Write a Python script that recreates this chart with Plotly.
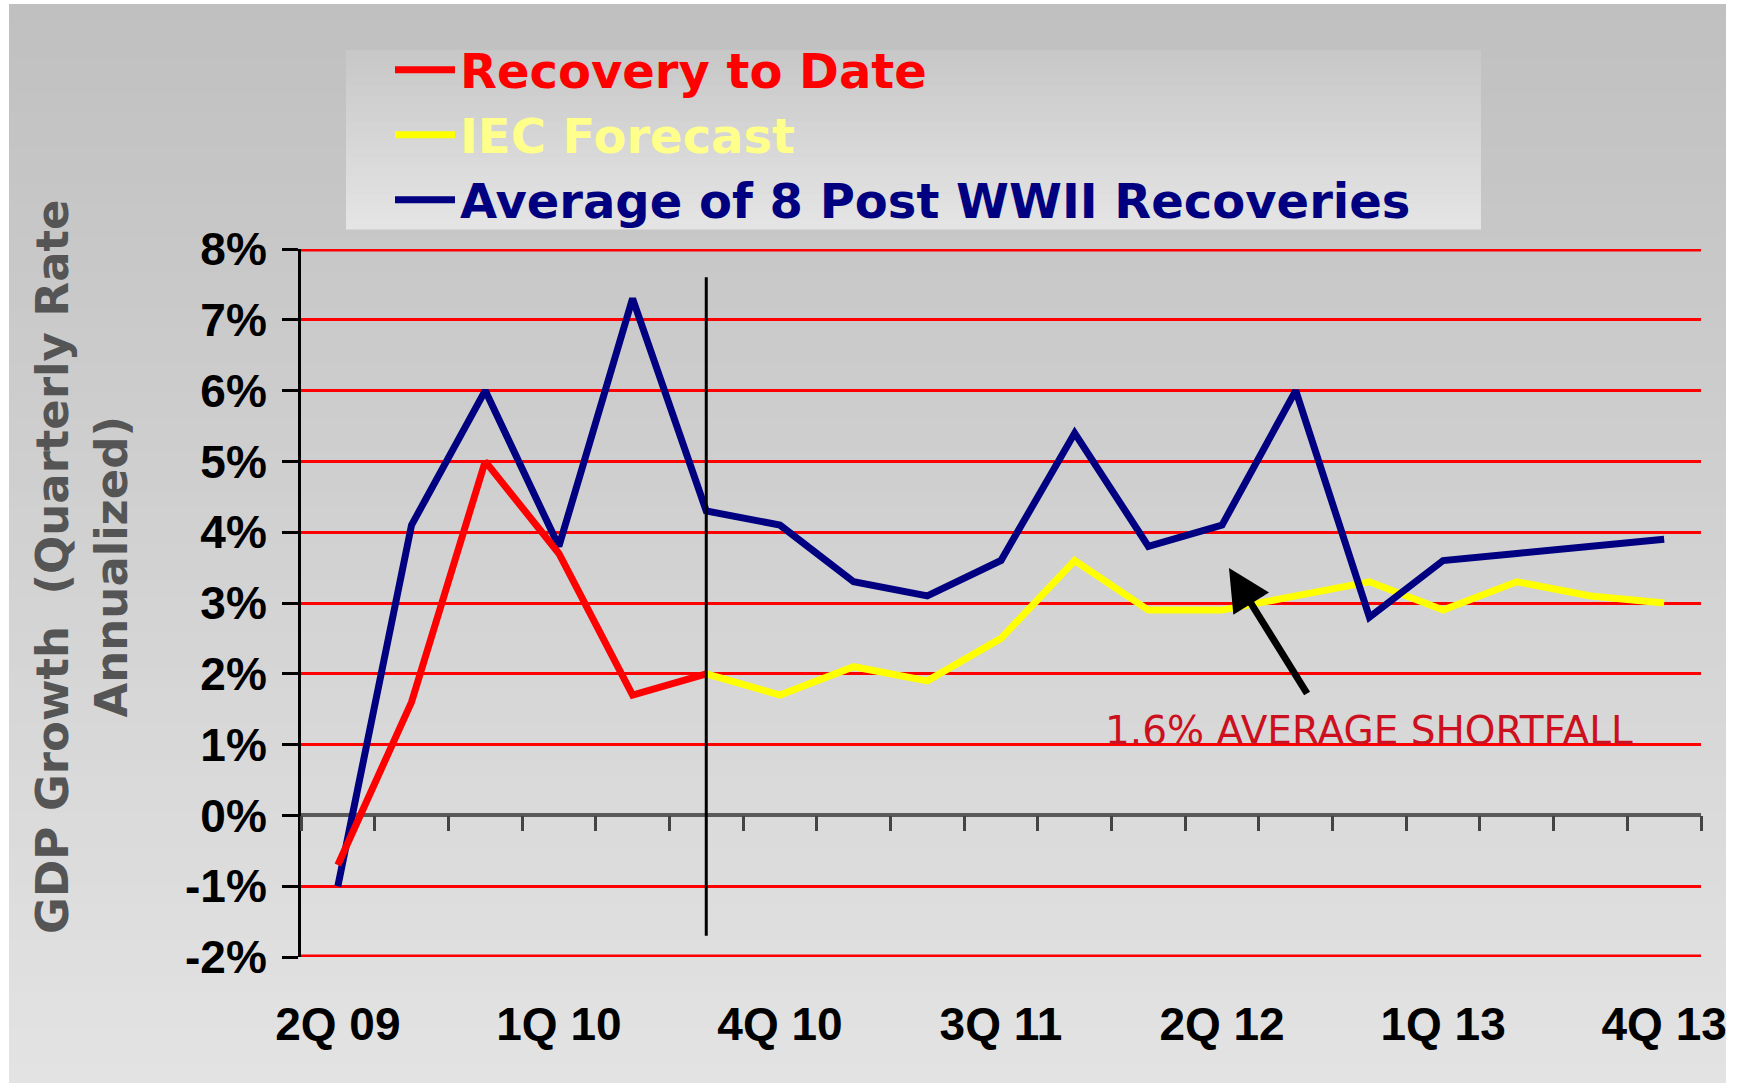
import plotly.graph_objects as go

# ---------------- data ----------------
quarters = ["2Q 09", "3Q 09", "4Q 09", "1Q 10", "2Q 10", "3Q 10", "4Q 10",
            "1Q 11", "2Q 11", "3Q 11", "4Q 11", "1Q 12", "2Q 12", "3Q 12",
            "4Q 12", "1Q 13", "2Q 13", "3Q 13", "4Q 13"]
recovery_to_date = [-0.7, 1.6, 5.0, 3.7, 1.7, 2.0] + [None] * 13
iec_forecast = [None] * 5 + [2.0, 1.7, 2.1, 1.9, 2.5, 3.6, 2.9, 2.9, 3.1,
                             3.3, 2.9, 3.3, 3.1, 3.0]
avg_post_wwii = [-1.0, 4.1, 6.0, 3.8, 7.3, 4.3, 4.1, 3.3, 3.1, 3.6, 5.4,
                 3.8, 4.1, 6.0, 2.8, 3.6, 3.7, 3.8, 3.9]
label_quarters = quarters[::3]
y_ticks = [-2, -1, 0, 1, 2, 3, 4, 5, 6, 7, 8]
y_tick_text = [f"{v}%" for v in y_ticks]
forecast_start = "3Q 10"
shortfall_text = "1.6% AVERAGE SHORTFALL"
y_title = "GDP Growth\u00a0 (Quarterly Rate<br>Annualized)"

# ---------------- figure geometry ----------------
W, H = 1749, 1083
L, R, T, B = 301, 48, 249, 126
PW, PH = W - L - R, H - T - B
Y_RANGE = [y_ticks[0], y_ticks[-1]]


def px_x(p):
    return (p - L) / PW


def px_y(p):
    return (H - B - p) / PH


fig = go.Figure()

fig.add_trace(go.Scatter(x=quarters, y=iec_forecast, name="IEC Forecast",
                         mode="lines", line=dict(color="#ffff00", width=7),
                         legend="legend2", hoverinfo="skip"))
fig.add_trace(go.Scatter(x=quarters, y=avg_post_wwii,
                         name="Average of 8 Post WWII Recoveries",
                         mode="lines", line=dict(color="#000080", width=7),
                         legend="legend3", hoverinfo="skip"))
fig.add_trace(go.Scatter(x=quarters, y=recovery_to_date, name="Recovery to Date",
                         mode="lines", line=dict(color="#ff0000", width=7),
                         legend="legend", hoverinfo="skip"))
# invisible helper so the zero-line tick axis knows the categories
fig.add_trace(go.Scatter(x=quarters, y=avg_post_wwii, xaxis="x2", mode="lines",
                         line=dict(width=0), opacity=0, showlegend=False,
                         hoverinfo="skip"))

shapes = []
# background gradient
n = 60
top_px, bot_px = 4, 1083
for i in range(n):
    y0p = top_px + (bot_px - top_px) * i / n
    y1p = top_px + (bot_px - top_px) * (i + 1) / n + 1
    c = int(round(192 + (227 - 192) * i / (n - 1)))
    shapes.append(dict(type="rect", xref="paper", yref="paper",
                       x0=px_x(9), x1=px_x(1726), y0=px_y(y1p), y1=px_y(y0p),
                       fillcolor=f"rgb({c},{c},{c})", line=dict(width=0),
                       layer="below"))
# legend box gradient
m = 20
ltop, lbot = 50, 229
for i in range(m):
    y0p = ltop + (lbot - ltop) * i / m
    y1p = ltop + (lbot - ltop) * (i + 1) / m + 0.6
    c = int(round(200 + (228 - 200) * i / (m - 1)))
    shapes.append(dict(type="rect", xref="paper", yref="paper",
                       x0=px_x(346), x1=px_x(1481), y0=px_y(y1p), y1=px_y(y0p),
                       fillcolor=f"rgb({c},{c},{c})", line=dict(width=0),
                       layer="below"))
# gridlines at the two range ends (plotly skips grid at the edges;
# half of the stroke is clipped by the plot area, hence the double width)
for yv in (y_ticks[0], y_ticks[-1]):
    shapes.append(dict(type="line", xref="paper", yref="y", x0=0, x1=1,
                       y0=yv, y1=yv, line=dict(color="#ff0000", width=5),
                       layer="below"))
# divider between actual and forecast
shapes.append(dict(type="line", xref="x", yref="y", x0=forecast_start,
                   x1=forecast_start, y0=-1.7, y1=7.6,
                   line=dict(color="black", width=3)))

legend_common = dict(xanchor="left", yanchor="middle",
                     bgcolor="rgba(0,0,0,0)", itemwidth=60)

zero_pos = (0 - Y_RANGE[0]) / (Y_RANGE[1] - Y_RANGE[0])

fig.update_layout(
    width=W, height=H, autosize=False,
    margin=dict(l=L, r=R, t=T, b=B, pad=0),
    paper_bgcolor="white", plot_bgcolor="rgba(0,0,0,0)",
    shapes=shapes,
    showlegend=True,
    xaxis=dict(type="category", categoryorder="array", categoryarray=quarters,
               range=[-0.5, len(quarters) - 0.5], tickmode="array",
               tickvals=label_quarters, ticktext=label_quarters,
               ticks="", showline=False, showgrid=False, zeroline=False,
               ticklabelstandoff=36,
               tickfont=dict(family="Liberation Sans, Arial", size=46,
                             color="black", weight="bold")),
    xaxis2=dict(type="category", categoryorder="array", categoryarray=quarters,
                overlaying="x", anchor="free", position=zero_pos, side="bottom",
                range=[-0.5, len(quarters) - 0.5], tickmode="linear", tick0=0,
                dtick=1, tickson="boundaries", ticks="outside", ticklen=15,
                tickwidth=2.5, tickcolor="#444444", showticklabels=False,
                showline=False, showgrid=False, zeroline=False),
    yaxis=dict(range=Y_RANGE, tickmode="array", tickvals=y_ticks,
               ticktext=y_tick_text, showgrid=True, gridcolor="#ff0000",
               gridwidth=2.5,
               zeroline=True, zerolinecolor="#5a5a5a", zerolinewidth=3.5,
               showline=True, linecolor="black", linewidth=3,
               ticks="outside", ticklen=16, tickwidth=2.5, tickcolor="black",
               ticklabelstandoff=6,
               tickfont=dict(family="Liberation Sans, Arial", size=46,
                             color="black", weight="bold")),
    legend=dict(x=px_x(390), y=px_y(70), **legend_common,
                font=dict(family="DejaVu Sans", size=48, color="#ff0000",
                          weight="bold")),
    legend2=dict(x=px_x(390), y=px_y(135), **legend_common,
                 font=dict(family="DejaVu Sans", size=48, color="#ffff8c",
                           weight="bold")),
    legend3=dict(x=px_x(390), y=px_y(200), **legend_common,
                 font=dict(family="DejaVu Sans", size=48, color="#000080",
                           weight="bold")),
    annotations=[
        dict(text=y_title, xref="paper", yref="paper", x=px_x(82), y=px_y(567),
             xanchor="center", yanchor="middle", textangle=-90,
             showarrow=False,
             font=dict(family="DejaVu Sans", size=45, color="#555555",
                       weight="bold")),
        dict(text=shortfall_text, xref="paper", yref="paper", x=px_x(1369),
             y=px_y(730), xanchor="center", yanchor="middle", showarrow=False,
             font=dict(family="DejaVu Sans", size=39, color="#cc1020")),
        dict(text="", xref="paper", yref="paper", x=px_x(1229), y=px_y(568),
             showarrow=True, arrowhead=2, arrowsize=1.2, arrowwidth=7,
             arrowcolor="black", ax=79, ay=127, standoff=0),
    ],
)

fig.write_html("out.html",
               config={"displayModeBar": False},
               post_script="document.body.style.margin='0px';"
                           "document.body.style.overflow='hidden';")
